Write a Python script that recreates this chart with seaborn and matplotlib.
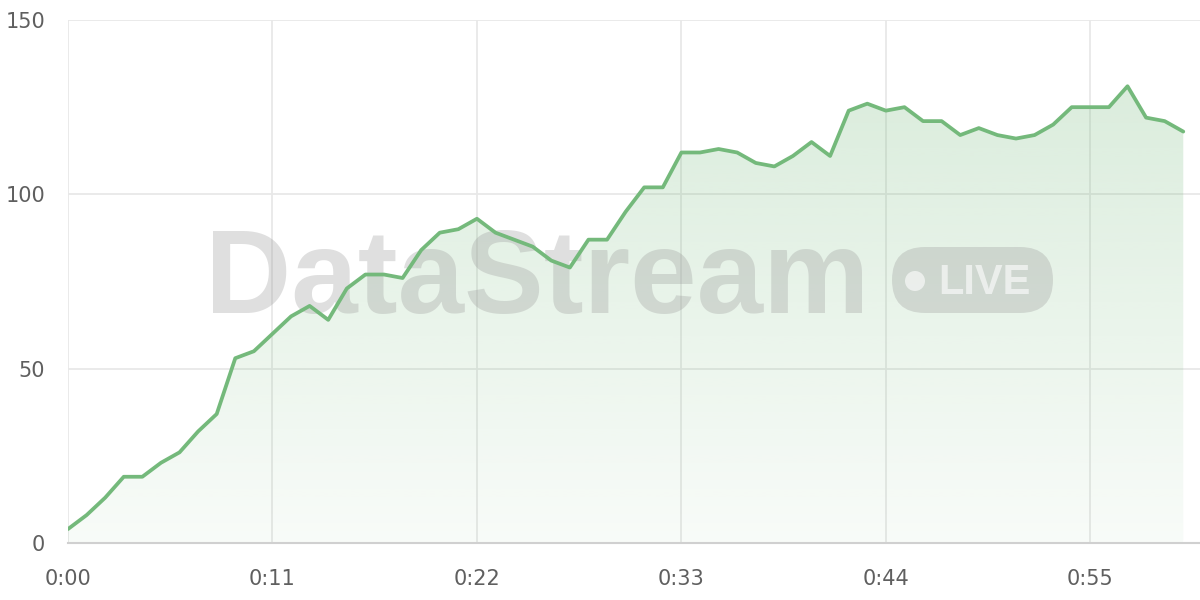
import numpy as np
import pandas as pd
import matplotlib
matplotlib.use("Agg")
import matplotlib.pyplot as plt
import seaborn as sns
from matplotlib.patches import FancyBboxPatch, Circle, Polygon
from matplotlib.transforms import IdentityTransform

# one reading per second, 0:00 .. 1:00
seconds = list(range(61))
values = [4, 8, 13, 19, 19, 23, 26, 32, 37, 53,
          55, 60, 65, 68, 64, 73, 77, 77, 76, 84,
          89, 90, 93, 89, 87, 85, 81, 79, 87, 87,
          95, 102, 102, 112, 112, 113, 112, 109, 108, 111,
          115, 111, 124, 126, 124, 125, 121, 121, 117, 119,
          117, 116, 117, 120, 125, 125, 125, 131, 122, 121,
          118]
x_ticks = [0, 11, 22, 33, 44, 55]
x_labels = ["0:00", "0:11", "0:22", "0:33", "0:44", "0:55"]
y_ticks = [0, 50, 100, 150]

df = pd.DataFrame({"t": seconds, "v": values})

sns.set_style("white")
plt.rcParams["font.family"] = ["DejaVu Sans"]

line_color = "#74b97b"
grid_color = "#e8e8e8"
text_color = "#5f5f5f"

W, H = 1200, 600
fig = plt.figure(figsize=(12, 6), dpi=100)
ax = fig.add_axes([68 / W, 1 - 543 / H, 1 - 68 / W, (543 - 20) / H])

ax.set_xlim(0, 60.9)
ax.set_ylim(0, 150)

# gradient fill under the line, clipped to the area polygon
grad = np.linspace(0.05, 0.29, 256)
rgba = np.zeros((256, 1, 4))
rgba[..., :3] = matplotlib.colors.to_rgb(line_color)
rgba[..., 3] = grad[:, None]
img = ax.imshow(rgba, extent=[0, 60.9, 0, 150], origin="lower",
                aspect="auto", zorder=1, interpolation="bilinear")
verts = [(seconds[0], 0)] + list(zip(seconds, values)) + [(seconds[-1], 0)]
poly = Polygon(verts, closed=True, facecolor="none", edgecolor="none")
ax.add_patch(poly)
img.set_clip_path(poly)

sns.lineplot(data=df, x="t", y="v", ax=ax, color=line_color,
             linewidth=2.7, zorder=4)

# watermark (pixel coordinates, y measured from the top)
def P(x, y):
    return x, H - y

wm_gray = "#9e9e9e"
ax.text(*P(205, 313), "DataStream", transform=IdentityTransform(),
        fontsize=86, fontweight="bold", family="Liberation Sans",
        color=wm_gray, alpha=0.33, ha="left", va="baseline", zorder=3)
badge = FancyBboxPatch(P(892, 313), 161, 66,
                       boxstyle="round,pad=0,rounding_size=33",
                       transform=IdentityTransform(), facecolor=wm_gray,
                       edgecolor="none", alpha=0.33, zorder=3)
ax.add_patch(badge)
ax.add_patch(Circle(P(915, 281), 10, transform=IdentityTransform(),
                    facecolor="white", edgecolor="none", alpha=0.6, zorder=3.1))
ax.text(*P(938, 294), "LIVE", transform=IdentityTransform(),
        fontsize=30, fontweight="bold", family="Liberation Sans",
        color="white", alpha=0.6, ha="left", va="baseline", zorder=3.1)

ax.set_xticks(x_ticks)
ax.set_xticklabels(x_labels)
ax.set_yticks(y_ticks)
ax.set_xlabel("")
ax.set_ylabel("")

ax.grid(True, color=grid_color, linewidth=1.3)
ax.set_axisbelow(True)
for s in ["left", "top", "right"]:
    ax.spines[s].set_visible(False)
ax.spines["bottom"].set_color("#d0d0d0")
ax.spines["bottom"].set_linewidth(1.5)

ax.tick_params(axis="y", length=11.5, width=1.3, color=grid_color,
               pad=5, labelsize=15, labelcolor=text_color)
ax.tick_params(axis="x", length=12, width=1.3, color=grid_color,
               pad=7, labelsize=15, labelcolor=text_color)

fig.savefig("out.png", dpi=100)
